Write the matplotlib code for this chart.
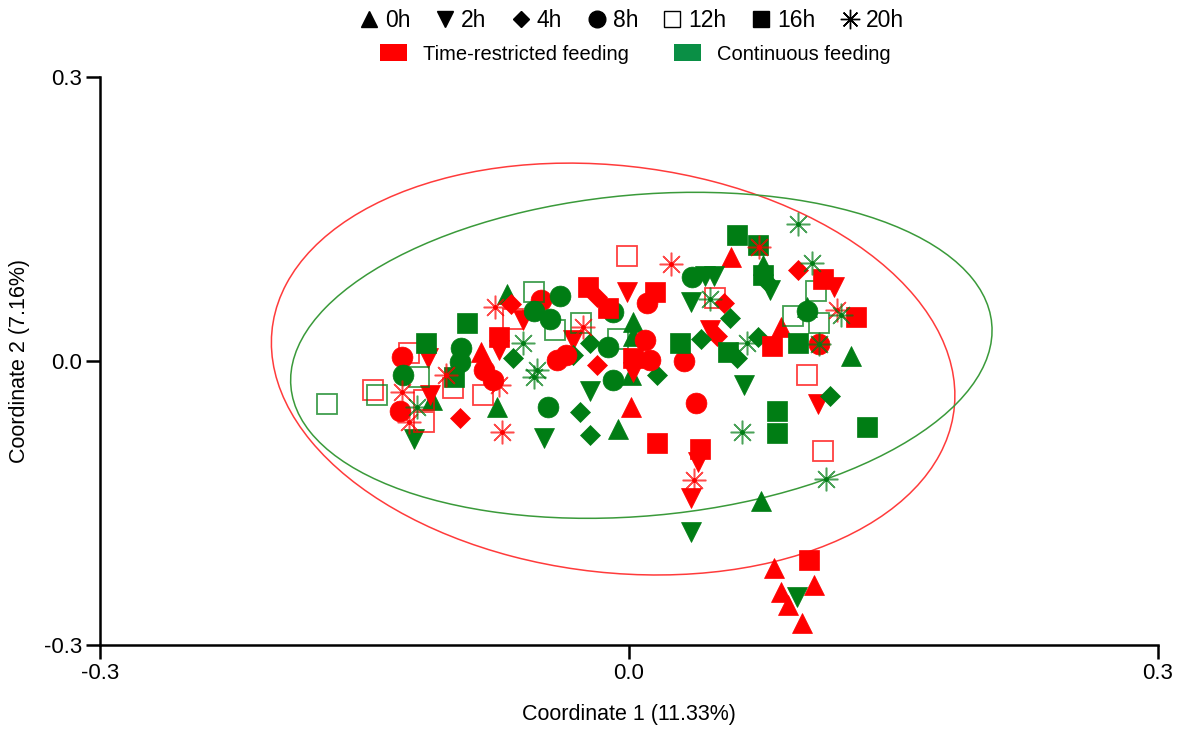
import matplotlib
matplotlib.use("Agg")
import matplotlib.pyplot as plt
from matplotlib.patches import Ellipse, Patch
from matplotlib.lines import Line2D

plt.rcParams['font.family'] = ['Liberation Sans', 'DejaVu Sans']

# PCoA scores: (coordinate 1, coordinate 2)
# TRF = time-restricted feeding, CF = continuous feeding
trf_0h = [(-0.084, 0.010), (0.001, -0.049), (0.058, 0.110), (0.086, 0.036),
          (0.082, -0.219), (0.086, -0.244), (0.105, -0.237), (0.090, -0.258),
          (0.098, -0.277)]
cf_0h = [(-0.069, 0.071), (-0.112, -0.041), (-0.075, -0.049), (-0.006, -0.072),
         (0.002, 0.041), (0.002, 0.026), (0.001, -0.015), (0.076, 0.101),
         (0.101, 0.057), (0.126, 0.005), (0.075, -0.148)]

trf_2h = [(-0.114, 0.003), (-0.113, -0.036), (-0.074, 0.012), (-0.060, 0.043),
          (-0.032, 0.022), (-0.001, 0.073), (0.002, -0.012), (0.116, 0.078),
          (0.107, -0.045), (0.039, -0.107), (0.035, -0.145), (0.046, 0.033)]
cf_2h = [(-0.122, -0.082), (-0.048, -0.081), (-0.022, -0.032), (0.035, 0.062),
         (0.043, 0.090), (0.048, 0.090), (0.065, -0.025), (0.080, 0.075),
         (0.035, -0.181), (0.095, -0.249)]

trf_4h = [(-0.067, 0.060), (-0.096, -0.060), (-0.018, -0.004), (-0.018, 0.068),
          (0.054, 0.061), (0.096, 0.096), (0.050, 0.026)]
cf_4h = [(-0.066, 0.003), (-0.032, 0.006), (-0.022, 0.019), (-0.028, -0.054),
         (-0.022, -0.078), (0.016, -0.015), (0.041, 0.023), (0.057, 0.045),
         (0.061, 0.003), (0.073, 0.025), (0.077, 0.086), (0.114, -0.037)]

trf_8h = [(-0.129, 0.004), (-0.130, -0.053), (-0.082, -0.010), (-0.077, -0.020),
          (-0.050, 0.064), (-0.041, 0.001), (-0.036, 0.006), (0.010, 0.061),
          (0.009, 0.022), (0.012, 0.001), (0.031, 0.000), (0.038, -0.044),
          (0.108, 0.018)]
cf_8h = [(-0.128, -0.015), (-0.095, 0.014), (-0.096, -0.001), (-0.054, 0.053),
         (-0.045, 0.044), (-0.039, 0.069), (-0.046, -0.049), (-0.012, 0.015),
         (-0.009, -0.020), (-0.009, 0.052), (0.036, 0.089), (0.101, 0.053)]

trf_12h = [(-0.001, 0.111), (-0.125, 0.008), (-0.145, -0.031), (-0.116, -0.064),
           (-0.116, -0.041), (-0.100, -0.029), (-0.083, -0.036), (-0.066, 0.044),
           (0.049, 0.067), (0.101, -0.015), (0.110, -0.095)]
cf_12h = [(-0.171, -0.045), (-0.143, -0.036), (-0.119, -0.017), (-0.054, 0.073),
          (-0.042, 0.033), (-0.027, 0.040), (-0.006, 0.023), (0.093, 0.048),
          (0.106, 0.074), (0.108, 0.040)]

trf_16h = [(-0.074, 0.025), (-0.023, 0.078), (-0.012, 0.056), (0.015, 0.073),
           (0.002, 0.003), (0.016, -0.087), (0.040, -0.093), (0.081, 0.016),
           (0.110, 0.087), (0.129, 0.046), (0.102, -0.210)]
cf_16h = [(-0.115, 0.019), (-0.092, 0.040), (-0.099, -0.017), (0.029, 0.019),
          (0.056, 0.010), (0.061, 0.133), (0.073, 0.122), (0.076, 0.091),
          (0.096, 0.019), (0.084, -0.053), (0.084, -0.076), (0.135, -0.070)]

trf_20h = [(-0.076, 0.057), (-0.104, -0.015), (-0.074, -0.025), (-0.129, -0.033),
           (-0.125, -0.064), (-0.072, -0.075), (-0.026, 0.036), (0.024, 0.102),
           (0.074, 0.120), (0.118, 0.054), (0.037, -0.126)]
cf_20h = [(-0.120, -0.049), (-0.060, 0.019), (-0.052, -0.010), (-0.054, -0.017),
          (0.046, 0.065), (0.067, 0.019), (0.064, -0.075), (0.096, 0.145),
          (0.104, 0.103), (0.120, 0.049), (0.108, 0.018), (0.112, -0.125)]

# group ellipses in data units: centre, full width, full height, angle (deg)
trf_ellipse = ((-0.009, -0.0085), 0.446, 0.375, 114.0)
cf_ellipse = ((0.007, 0.006), 0.409, 0.331, 23.3)

time_labels = ['0h', '2h', '4h', '8h', '12h', '16h', '20h']
group_labels = ['Time-restricted feeding', 'Continuous feeding']

RED = '#ff0000'
GREEN = '#007d14'

markers = {
    '0h': dict(marker='^', ms=14.5),
    '2h': dict(marker='v', ms=14.5),
    '4h': dict(marker='D', ms=10.5),
    '8h': dict(marker='o', ms=15),
    '12h': dict(marker='s', ms=14.5, hollow=True),
    '16h': dict(marker='s', ms=14.5),
    '20h': dict(marker=(8, 2, 0), ms=17, star=True),
}

trf_sets = [trf_0h, trf_2h, trf_4h, trf_8h, trf_12h, trf_16h, trf_20h]
cf_sets = [cf_0h, cf_2h, cf_4h, cf_8h, cf_12h, cf_16h, cf_20h]


def draw_points(ax, pts, label, color):
    st = markers[label]
    xs = [p[0] for p in pts]
    ys = [p[1] for p in pts]
    if st.get('hollow'):
        ax.plot(xs, ys, ls='none', marker=st['marker'], ms=st['ms'],
                mfc='none', mec=color, mew=1.3, alpha=0.75, zorder=3)
    elif st.get('star'):
        ax.plot(xs, ys, ls='none', marker=st['marker'], ms=st['ms'],
                mec=color, mew=1.1, alpha=0.7, zorder=3)
        ax.plot(xs, ys, ls='none', marker='o', ms=2.5, mfc=color,
                mec=color, zorder=3)
    else:
        ax.plot(xs, ys, ls='none', marker=st['marker'], ms=st['ms'],
                mfc=color, mec=color, mew=0.5, zorder=3)


fig = plt.figure(figsize=(11.81, 7.29), dpi=100)
ax = fig.add_axes([0.0847, 0.1152, 0.8958, 0.7792])

for (c, w, h, a), col in [(trf_ellipse, '#ff3b3b'), (cf_ellipse, '#3a9a3a')]:
    ax.add_patch(Ellipse(c, w, h, angle=a, fill=False, ec=col, lw=1.1, zorder=2))

for lab, tset, cset in zip(time_labels, trf_sets, cf_sets):
    draw_points(ax, tset, lab, RED)
    draw_points(ax, cset, lab, GREEN)

ax.set_xlim(-0.3, 0.3)
ax.set_ylim(-0.3, 0.3)
ax.set_xticks([-0.3, 0.0, 0.3])
ax.set_yticks([-0.3, 0.0, 0.3])
ax.set_xticklabels(['-0.3', '0.0', '0.3'])
ax.set_yticklabels(['-0.3', '0.0', '0.3'])
for s in ['top', 'right']:
    ax.spines[s].set_visible(False)
for s in ['left', 'bottom']:
    ax.spines[s].set_linewidth(1.8)
ax.tick_params(direction='out', length=10, width=1.8, labelsize=16, pad=3)
ax.set_xlabel('Coordinate 1 (11.33%)', fontsize=15.5, labelpad=14)
ax.set_ylabel('Coordinate 2 (7.16%)', fontsize=15.5, labelpad=10)

# legend row 1: sampling times
time_handles = []
for lab in time_labels:
    st = markers[lab]
    if st.get('hollow'):
        h = Line2D([], [], ls='none', marker='s', ms=12, mfc='none', mec='black', mew=1.0)
    elif st.get('star'):
        h = Line2D([], [], ls='none', marker=(8, 2, 0), ms=14, mec='black', mew=1.0)
    else:
        h = Line2D([], [], ls='none', marker=st['marker'],
                   ms=st['ms'] * 0.8, mfc='black', mec='black')
    time_handles.append(h)
fig.legend(time_handles, time_labels, loc='center', bbox_to_anchor=(0.535, 0.972),
           ncol=7, frameon=False, fontsize=16.5, handlelength=0.8,
           handletextpad=0.3, columnspacing=1.1)

# legend row 2: feeding groups
group_handles = [Patch(fc=RED, ec='none'), Patch(fc='#0a8f45', ec='none')]
fig.legend(group_handles, group_labels, loc='center', bbox_to_anchor=(0.538, 0.926),
           ncol=2, frameon=False, fontsize=14.5, handlelength=1.35, handleheight=0.9,
           handletextpad=0.8, columnspacing=2.2)

fig.savefig('out.png', dpi=100)
